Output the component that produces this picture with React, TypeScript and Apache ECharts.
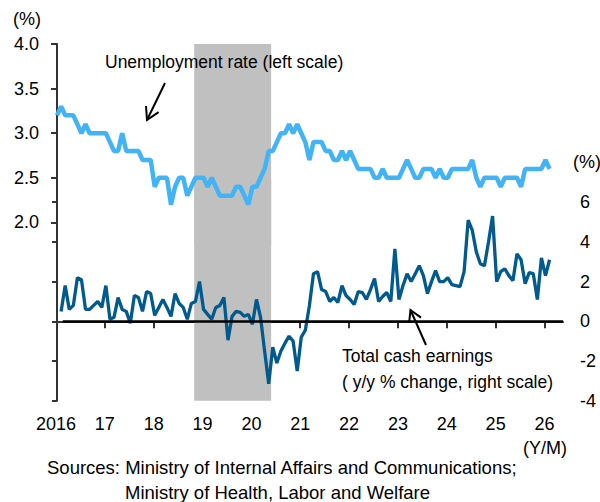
import React, { useEffect, useRef } from "react";
import * as echarts from "echarts";

// Months counted from 2016/01 (index 0)
const unemploymentRate = [
  3.2, 3.3, 3.2, 3.2, 3.2, 3.1, 3.0, 3.1, 3.0, 3.0, 3.0, 3.0,
  3.0, 2.9, 2.8, 2.8, 3.0, 2.8, 2.8, 2.8, 2.8, 2.7, 2.7, 2.7,
  2.4, 2.5, 2.5, 2.5, 2.2, 2.4, 2.5, 2.5, 2.3, 2.4, 2.5, 2.5,
  2.5, 2.4, 2.5, 2.4, 2.3, 2.3, 2.3, 2.3, 2.4, 2.4, 2.3, 2.2,
  2.4, 2.4, 2.5, 2.6, 2.8, 2.8, 2.9, 3.0, 3.0, 3.1, 3.0, 3.1,
  3.0, 2.9, 2.7, 2.9, 2.9, 2.9, 2.8, 2.8, 2.7, 2.7, 2.8, 2.7,
  2.8, 2.7, 2.6, 2.6, 2.6, 2.6, 2.5, 2.5, 2.6, 2.5, 2.5, 2.5,
  2.5, 2.6, 2.7, 2.6, 2.5, 2.5, 2.6, 2.6, 2.6, 2.5, 2.6, 2.5,
  2.5, 2.6, 2.6, 2.6, 2.6, 2.6, 2.7, 2.5, 2.4, 2.5, 2.5, 2.5,
  2.5, 2.4, 2.5, 2.5, 2.5, 2.5, 2.4, 2.6, 2.6, 2.6, 2.6, 2.6,
  2.7, 2.6,
];

// Total cash earnings, y/y % change, starting 2016/02
const earningsStartMonth = 1;
const cashEarnings = [
  0.5, 1.8, 0.6, 0.8, 2.2, 2.1, 0.6, 0.6, 0.8, 1.0, 0.7,
  1.8, 0.1, 0.2, 1.2, 0.6, 0.5, -0.1, 1.3, 1.2, 0.5, 1.5, 1.4,
  0.3, 0.7, 1.1, 0.7, 0.25, 1.4, 0.9, 0.7, 0.1, 0.9, 1.0, 2.0,
  0.6, 0.35, 0.1, 0.7, 0.8, 1.2, -0.95, 0.25, 0.5, 0.45, 0.25, 0.35,
  -0.15, 1.1, 0.2, -1.5, -3.15, -1.3, -2.1, -1.5, -1.1, -0.75, -1.0, -2.5,
  -0.8, -0.45, 0.8, 2.4, 2.5, 1.6, 1.5, 1.0, 1.2, 0.95, 1.8, 1.3,
  1.1, 0.85, 1.5, 1.45, 1.1, 1.6, 2.15, 1.0, 1.25, 1.45, 1.0, 3.65,
  1.1, 1.8, 2.4, 2.0, 2.4, 2.8, 2.3, 1.4, 2.0, 2.55, 2.0, 2.0,
  2.2, 1.85, 1.8, 1.75, 2.5, 5.1, 4.6, 3.5, 2.9, 2.8, 4.0, 5.3,
  2.0, 2.5, 2.65, 2.3, 2.05, 3.4, 3.1, 1.9, 2.45, 2.4, 1.1, 3.2,
  2.3, 3.1,
];

const yearLabels = ["2016", "17", "18", "19", "20", "21", "22", "23", "24", "25", "26"];
const leftTicks = [2.0, 2.5, 3.0, 3.5, 4.0];
const rightTicks = [-4, -2, 0, 2, 4, 6];
const recessionPeriod = [33.7, 52.6]; // 2018/10 - 2020/05 (months from 2016/01)

const FONT = '"Liberation Sans", Arial, sans-serif';

function arrow(tail: number[], tip: number[], len: number, angDeg: number) {
  const dx = tail[0] - tip[0];
  const dy = tail[1] - tip[1];
  const L = Math.hypot(dx, dy);
  const ux = dx / L;
  const uy = dy / L;
  const a = (angDeg * Math.PI) / 180;
  const rot = (s: number) => [
    tip[0] + len * (ux * Math.cos(s * a) - uy * Math.sin(s * a)),
    tip[1] + len * (ux * Math.sin(s * a) + uy * Math.cos(s * a)),
  ];
  return [
    {
      type: "line",
      z: 100,
      shape: { x1: tail[0], y1: tail[1], x2: tip[0], y2: tip[1] },
      style: { stroke: "#000", lineWidth: 2 },
    },
    {
      type: "polyline",
      z: 100,
      shape: { points: [rot(1), tip, rot(-1)] },
      style: { stroke: "#000", lineWidth: 2, fill: null },
    },
  ];
}

function txt(text: string, x: number, y: number, size: number, align = "left") {
  return {
    type: "text",
    z: 100,
    x,
    y,
    style: {
      text,
      fontSize: size,
      fontFamily: FONT,
      fill: "#000",
      textAlign: align,
      textVerticalAlign: "middle",
    },
  };
}

export default function App() {
  const ref = useRef<HTMLDivElement>(null);

  useEffect(() => {
    document.body.style.margin = "0";
    const chart = echarts.init(ref.current!, null, { renderer: "svg" });

    const xMin = -0.5;
    const xMax = 124.3;
    const yearPos = yearLabels.map((_, k) => 12 * k - 0.25);

    const shade = {
      silent: true,
      itemStyle: { color: "#c0c0c0" },
      data: [[{ xAxis: recessionPeriod[0] }, { xAxis: recessionPeriod[1] }]],
    };

    const option: any = {
      animation: false,
      grid: [
        { left: 55, right: 37, top: 44, height: 202 },
        { left: 55, right: 37, top: 179, height: 221.7 },
      ],
      xAxis: [
        { type: "value", gridIndex: 0, min: xMin, max: xMax, show: false },
        {
          type: "value",
          gridIndex: 1,
          min: xMin,
          max: xMax,
          splitLine: { show: false },
          axisLine: { show: true, lineStyle: { color: "#333", width: 2 } },
          axisTick: {
            show: true,
            customValues: yearPos.slice(1),
            length: 7,
            lineStyle: { color: "#333", width: 2 },
          },
          axisLabel: {
            customValues: yearPos,
            formatter: (v: number) => yearLabels[Math.round((v + 0.25) / 12)],
            fontSize: 18,
            fontFamily: FONT,
            color: "#000",
            margin: 14,
          },
        },
      ],
      yAxis: [
        {
          type: "value",
          gridIndex: 0,
          position: "left",
          min: 4 - 202 / 89.2,
          max: 4,
          splitLine: { show: false },
          axisLine: { show: true, lineStyle: { color: "#333", width: 2 } },
          axisTick: {
            show: true,
            customValues: leftTicks,
            length: 6,
            lineStyle: { color: "#333", width: 2 },
          },
          axisLabel: {
            customValues: leftTicks,
            formatter: (v: number) => v.toFixed(1),
            fontSize: 18,
            fontFamily: FONT,
            color: "#000",
            margin: 16,
          },
        },
        {
          type: "value",
          gridIndex: 1,
          position: "right",
          min: -4,
          max: 7.17,
          splitLine: { show: false },
          axisLine: { show: true, lineStyle: { color: "#333", width: 2 } },
          axisTick: {
            show: true,
            inside: true,
            customValues: rightTicks,
            length: 5,
            lineStyle: { color: "#333", width: 2 },
          },
          axisLabel: {
            customValues: rightTicks,
            fontSize: 18,
            fontFamily: FONT,
            color: "#000",
            margin: 17,
          },
        },
      ],
      series: [
        {
          name: "Unemployment rate",
          type: "line",
          xAxisIndex: 0,
          yAxisIndex: 0,
          z: 3,
          symbol: "none",
          data: unemploymentRate.map((v, i) => [i, v]),
          lineStyle: { color: "#42b4f6", width: 4.5 },
          itemStyle: { color: "#42b4f6" },
          markArea: shade,
        },
        {
          name: "Total cash earnings",
          type: "line",
          xAxisIndex: 1,
          yAxisIndex: 1,
          z: 2,
          symbol: "none",
          data: cashEarnings.map((v, i) => [i + earningsStartMonth, v]),
          lineStyle: { color: "#005a8e", width: 3.3 },
          itemStyle: { color: "#005a8e" },
          markArea: shade,
          markLine: {
            silent: true,
            symbol: "none",
            label: { show: false },
            lineStyle: { color: "#000", width: 2.5, type: "solid" },
            data: [[{ coord: [1.4, 0] }, { coord: [xMax, 0] }]],
          },
        },
      ],
      graphic: [
        txt("(%)", 13, 19, 18),
        txt("(%)", 573, 162, 18),
        txt("(Y/M)", 567, 448, 18, "right"),
        txt("Unemployment rate (left scale)", 105, 62, 17.5),
        txt("Total cash earnings", 342, 356, 17.5),
        txt("( y/y % change, right scale)", 342, 382, 17.5),
        ...arrow([165, 83], [147, 120], 14, 30),
        ...arrow([426, 345], [410.5, 310], 13, 30),
        txt("Sources: Ministry of Internal Affairs and Communications;", 47, 467, 18.5),
        txt("Ministry of Health, Labor and Welfare", 125, 492, 18.5),
      ],
    };

    chart.setOption(option);
    return () => chart.dispose();
  }, []);

  return <div ref={ref} style={{ width: 600, height: 502 }} />;
}
